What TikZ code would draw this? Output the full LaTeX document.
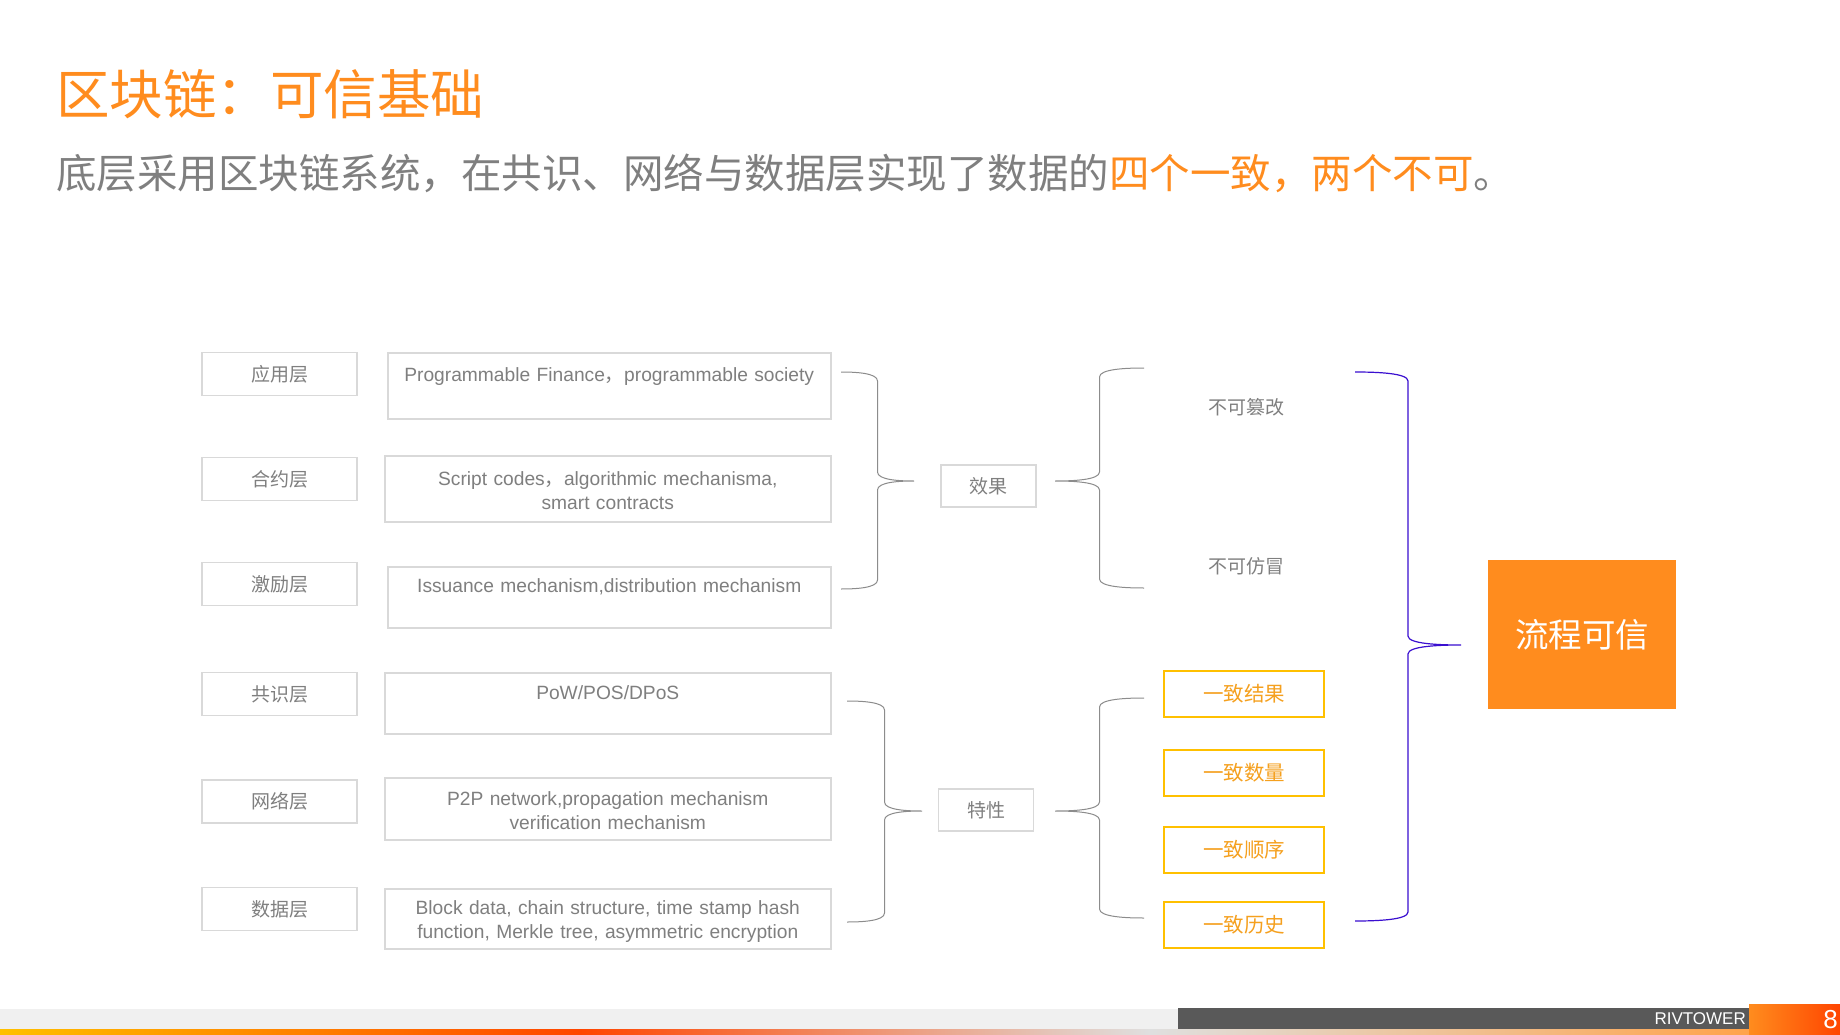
\documentclass[tikz,border=0pt]{standalone}
\usepackage{fontspec}
\setmainfont{Liberation Sans}
\newfontfamily\cjk{Noto Sans CJK SC}
\usetikzlibrary{calc}
\definecolor{chengse}{HTML}{FF8C1E}
\definecolor{jinse}{HTML}{FFC000}
\definecolor{jinzi}{HTML}{F5A01E}
\definecolor{huizi}{HTML}{7F7F7F}
\definecolor{kuangxian}{HTML}{D9D9D9}
\definecolor{kuohaohui}{HTML}{8C8C8C}
\definecolor{lanzi}{HTML}{3A0FD0}
\definecolor{diqian}{HTML}{F0F0F0}
\definecolor{dishen}{HTML}{595959}
\definecolor{huangse}{HTML}{FFC000}
\definecolor{hongse}{HTML}{FF4500}

% curly brace: top end #2, bottom end #3, tip #4
\newcommand{\kuohao}[4][]{%
  \draw[#1] let \p1=(#2), \p2=(#3), \p3=(#4),
    \n1={0.5*\x1+0.5*\x3}, \n2={0.8*\x1+0.2*\x3}, \n3={0.2*\x1+0.8*\x3} in
    (\p1) .. controls ({\n2*1pt},\y1) and ({\n1*1pt},{\y1-1pt}) .. ({\n1*1pt},{\y1-9pt})
    -- ({\n1*1pt},{\y3+9pt}) .. controls ({\n1*1pt},{\y3+1pt}) and ({\n3*1pt},\y3) .. (\p3)
    .. controls ({\n3*1pt},\y3) and ({\n1*1pt},{\y3-1pt}) .. ({\n1*1pt},{\y3-9pt})
    -- ({\n1*1pt},{\y2+9pt}) .. controls ({\n1*1pt},{\y2+1pt}) and ({\n2*1pt},\y2) .. (\p2);}

\begin{document}
\begin{tikzpicture}[x=1pt, y=-1pt,
  ceng/.style={draw=kuangxian, line width=1.5pt, minimum width=155pt, minimum height=43pt,
    inner sep=0pt, text=huizi, font=\cjk\fontsize{19}{22}\selectfont},
  neirong/.style={draw=kuangxian, line width=1.5pt, anchor=north west, inner sep=0pt,
    align=center, text=huizi, font=\fontsize{19.2}{23.5}\selectfont},
  tezheng/.style={draw=kuangxian, line width=1.5pt, minimum width=95pt, minimum height=42pt,
    inner sep=0pt, text=huizi, font=\cjk\fontsize{19}{22}\selectfont},
  yizhi/.style={draw=jinse, line width=2pt, minimum width=160pt, minimum height=46pt,
    inner sep=0pt, text=jinzi, font=\cjk\fontsize{20.5}{24}\selectfont},
  buke/.style={text=huizi, font=\cjk\fontsize{19}{22}\selectfont},
  kuo/.style={kuohaohui, line width=1pt},
  lankuo/.style={lanzi, line width=1.2pt}]

\path[use as bounding box, fill=white] (0,0) rectangle (1840,1035);

% ================= title =================
\node[anchor=west, inner sep=0pt, text=chengse, font=\cjk\fontsize{53.5}{60}\selectfont]
  (biaoti) at (56,94) {区块链：可信基础};
\node[anchor=west, inner sep=0pt, text=huizi, font=\cjk\fontsize{40.5}{48}\selectfont]
  (fubiaoti) at (56,173)
  {底层采用区块链系统，在共识、网络与数据层实现了数据的\textcolor{chengse}{四个一致，两个不可}。};

% ================= layers =================
\foreach \mingzi/\y/\wenzi in {yingyong/374/应用层, heyue/479/合约层, jili/584/激励层,
    gongshi/694/共识层, wangluo/801.5/网络层, shuju/909/数据层}
  \node[ceng] (\mingzi) at (279.5,\y) {\wenzi};

\node[neirong, text width=443pt, text height=29pt, text depth=37pt] (nr1) at (387,352)
  {Programmable Finance{\cjk ，}programmable society};
\node[neirong, text width=446pt, text height=30pt, text depth=36pt] (nr2) at (384,455)
  {Script codes{\cjk ，}algorithmic mechanisma,\\smart contracts};
\node[neirong, text width=443pt, text height=26pt, text depth=35pt] (nr3) at (387,566)
  {Issuance mechanism,distribution mechanism};
\node[neirong, text width=446pt, text height=27pt, text depth=34pt] (nr4) at (384,672)
  {PoW/POS/DPoS};
\node[neirong, text width=446pt, text height=28pt, text depth=34pt] (nr5) at (384,777)
  {P2P network,propagation mechanism\\verification mechanism};
\node[neirong, text width=446pt, text height=26pt, text depth=34pt] (nr6) at (384,888)
  {Block data, chain structure, time stamp hash\\function, Merkle tree, asymmetric encryption};

% ================= effects / properties =================
\node[tezheng] (xiaoguo) at (988.5,486) {效果};
\node[tezheng] (texing) at (986,810) {特性};

\node[buke] (cuangai) at (1246,407) {不可篡改};
\node[buke] (fangmao) at (1246,566) {不可仿冒};

\foreach \mingzi/\y/\wenzi in {jieguo/694/一致结果, shuliang/772.5/一致数量,
    shunxu/850/一致顺序, lishi/924.5/一致历史}
  \node[yizhi] (\mingzi) at (1244,\y) {\wenzi};

\node[fill=chengse, minimum width=188pt, minimum height=149pt, text=white,
  font=\cjk\fontsize{33.5}{40}\selectfont] (liucheng) at (1582,634.5) {流程可信};

% ================= braces =================
\coordinate (ka1) at (841,372);  \coordinate (ka2) at (841,589);  \coordinate (ka3) at (914,481);
\coordinate (kb1) at (1144,368); \coordinate (kb2) at (1144,588); \coordinate (kb3) at (1055,481);
\coordinate (kc1) at (847,701);  \coordinate (kc2) at (847,922);  \coordinate (kc3) at (922,811);
\coordinate (kd1) at (1144,698); \coordinate (kd2) at (1144,918); \coordinate (kd3) at (1055,811);
\coordinate (ke1) at (1355,372); \coordinate (ke2) at (1355,921); \coordinate (ke3) at (1461,645);

\kuohao[kuo]{ka1}{ka2}{ka3}
\kuohao[kuo]{kb1}{kb2}{kb3}
\kuohao[kuo]{kc1}{kc2}{kc3}
\kuohao[kuo]{kd1}{kd2}{kd3}
\kuohao[lankuo]{ke1}{ke2}{ke3}

% ================= footer =================
\fill[diqian] (0,1009) rectangle (1178,1029);
\fill[dishen] (1178,1008) rectangle (1749,1029);
\shade[left color=huangse, right color=hongse] (0,1029) rectangle (580,1035);
\shade[left color=hongse, right color=diqian!85!gray] (580,1029) rectangle (1150,1035);
\shade[left color=diqian!85!gray, right color=chengse!80!white] (1150,1029) rectangle (1749,1035);
\shade[left color=chengse, middle color=huangse, right color=hongse] (1749,1004) rectangle (1840,1035);
\node[anchor=east, inner sep=0pt, text=white, font=\fontsize{17}{20}\selectfont]
  (pinpai) at (1746,1019) {RIVTOWER};
\node[anchor=east, inner sep=0pt, text=white, font=\fontsize{26}{30}\selectfont]
  (yema) at (1838,1020) {8};

\end{tikzpicture}
\end{document}
